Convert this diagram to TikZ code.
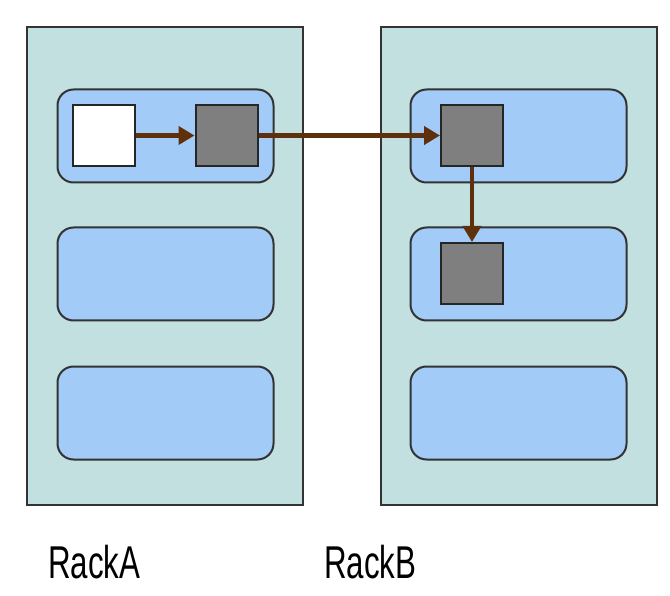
\documentclass[tikz,border=0pt]{standalone}
\usepackage{fontspec}
\setmainfont{Liberation Sans}
\usetikzlibrary{arrows.meta}
\definecolor{rackfill}{HTML}{C2E0E0}
\definecolor{srvfill}{HTML}{A3CBF7}
\definecolor{blkfill}{HTML}{7F7F7F}
\definecolor{arrowc}{HTML}{5E300C}
\definecolor{edgec}{HTML}{333333}
\tikzset{
  rack/.style={draw=edgec, line width=2pt, fill=rackfill, rectangle, inner sep=0pt, minimum width=276pt, minimum height=477pt},
  server/.style={draw=edgec, line width=2pt, fill=srvfill, rectangle, rounded corners=16pt, inner sep=0pt, minimum width=216pt, minimum height=93pt},
  block/.style={draw=black!85, line width=2pt, fill=blkfill, rectangle, inner sep=0pt, minimum width=62pt, minimum height=61pt},
  wblock/.style={block, fill=white},
  flow/.style={draw=arrowc, line width=4.5pt, -{Triangle[length=16pt,width=18pt]}},
  racklabel/.style={font=\fontsize{46pt}{50pt}\selectfont, inner sep=0pt, anchor=base west}
}
\begin{document}
\begin{tikzpicture}[x=1pt,y=-1pt]
\useasboundingbox[fill=white] (0,0) rectangle (670,596);
\node[rack] (rackA) at (165,266) {};
\node[rack] (rackB) at (518.5,266) {};
\node[server] (a1) at (165.5,136) {};
\node[server] (a2) at (165.5,274) {};
\node[server] (a3) at (165.5,413) {};
\node[server] (b1) at (518.5,136) {};
\node[server] (b2) at (518.5,274) {};
\node[server] (b3) at (518.5,413) {};
\node[wblock] (w) at (104,135.5) {};
\node[block] (g) at (226.5,135.5) {};
\node[block] (h) at (472,135.5) {};
\node[block] (k) at (472,273.5) {};
\draw[flow] (w.east) -- (g.west);
\draw[flow] (g.east) -- (h.west);
\draw[flow] (h.south) -- (k.north);
\node[racklabel] (la) at (48,578) {\scalebox{0.68}[1]{RackA}};
\node[racklabel] (lb) at (324,578) {\scalebox{0.68}[1]{RackB}};
\end{tikzpicture}
\end{document}
